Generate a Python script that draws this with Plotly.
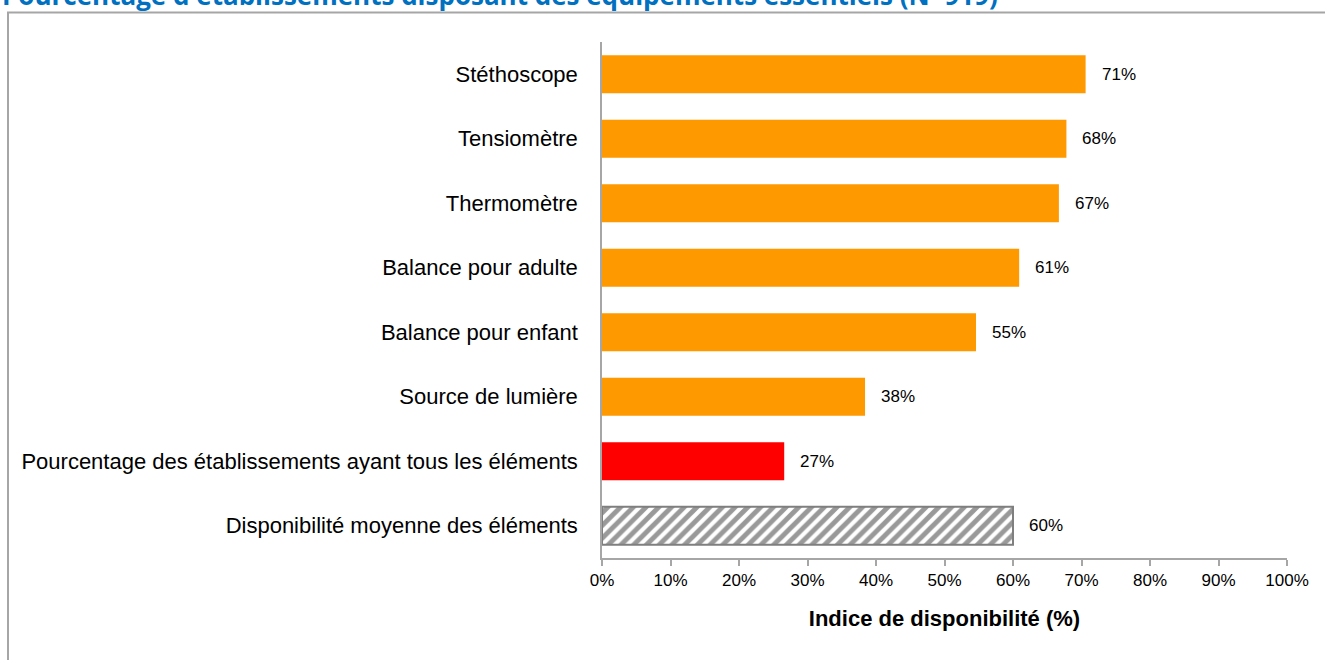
import plotly.graph_objects as go

categories = [
    "Stéthoscope",
    "Tensiomètre",
    "Thermomètre",
    "Balance pour adulte",
    "Balance pour enfant",
    "Source de lumière",
    "Pourcentage des établissements ayant tous les éléments",
    "Disponibilité moyenne des éléments",
]
equip_cats = categories[:6]
equip_vals = [70.6, 67.8, 66.7, 60.9, 54.6, 38.4]
all_cats = [categories[6]]
all_vals = [26.6]
mean_cats = [categories[7]]
mean_vals = [60.0]
value_labels = ["71%", "68%", "67%", "61%", "55%", "38%", "27%", "60%"]
x_ticks = [0, 10, 20, 30, 40, 50, 60, 70, 80, 90, 100]
x_tick_labels = ["0%", "10%", "20%", "30%", "40%", "50%", "60%", "70%", "80%", "90%", "100%"]
title_text = "Pourcentage d'établissements disposant des équipements essentiels (N=919)"

FONT = "Liberation Sans, Arial, sans-serif"
W, H = 1325, 660
L, R, T, B = 602, 38, 42, 102

fig = go.Figure()
fig.add_trace(go.Bar(y=equip_cats, x=equip_vals, orientation="h",
                     marker=dict(color="#FF9900", line=dict(width=0)), showlegend=False))
fig.add_trace(go.Bar(y=all_cats, x=all_vals, orientation="h",
                     marker=dict(color="#FF0000", line=dict(width=0)), showlegend=False))
fig.add_trace(go.Bar(y=mean_cats, x=mean_vals, orientation="h",
                     marker=dict(color="white", line=dict(color="#7F7F7F", width=2),
                                 pattern=dict(shape="/", fgcolor="#333333", bgcolor="white",
                                              size=9, solidity=0.55)),
                     showlegend=False))

all_values = equip_vals + all_vals + mean_vals
for cat, v, lab in zip(categories, all_values, value_labels):
    fig.add_annotation(x=v, y=cat, text=lab, showarrow=False, xanchor="left",
                       xshift=14, font=dict(family=FONT, size=17, color="#000000"))

pw, ph = W - L - R, H - T - B
def px_x(p):
    return (p - L) / pw
def px_y(p):
    return (H - B - p) / ph

fig.add_shape(type="rect", xref="paper", yref="paper",
              x0=px_x(8), x1=px_x(1340), y0=px_y(680), y1=px_y(12.5),
              line=dict(color="#A6A6A6", width=2), fillcolor="rgba(0,0,0,0)", layer="below")

fig.add_annotation(xref="paper", yref="paper", x=px_x(0), y=px_y(-5),
                   xanchor="left", yanchor="middle", showarrow=False,
                   text="<b>" + title_text + "</b>",
                   font=dict(family="Open Sans, sans-serif", size=26, color="#0070C0"))

fig.update_layout(
    width=W, height=H,
    margin=dict(l=L, r=R, t=T, b=B, autoexpand=False),
    paper_bgcolor="white", plot_bgcolor="white",
    barmode="overlay", bargap=0.41,
    xaxis=dict(range=[0, 100], tickvals=x_ticks, ticktext=x_tick_labels,
               showgrid=False, zeroline=False, showline=True, linecolor="#A6A6A6", linewidth=1.5,
               ticks="outside", ticklen=6, tickcolor="#A6A6A6", tickwidth=1.5,
               tickfont=dict(family=FONT, size=17, color="#000000"),
               title=dict(text="<b>Indice de disponibilité (%)</b>", standoff=21,
                          font=dict(family=FONT, size=22, color="#000000"))),
    yaxis=dict(categoryorder="array", categoryarray=categories, autorange="reversed",
               showgrid=False, zeroline=False, showline=True, linecolor="#A6A6A6", linewidth=1.5,
               ticks="", ticklabelstandoff=18,
               tickfont=dict(family=FONT, size=22, color="#000000")),
)

fig.write_html("out.html", config={"displayModeBar": False},
               post_script="document.body.style.margin='0';")
